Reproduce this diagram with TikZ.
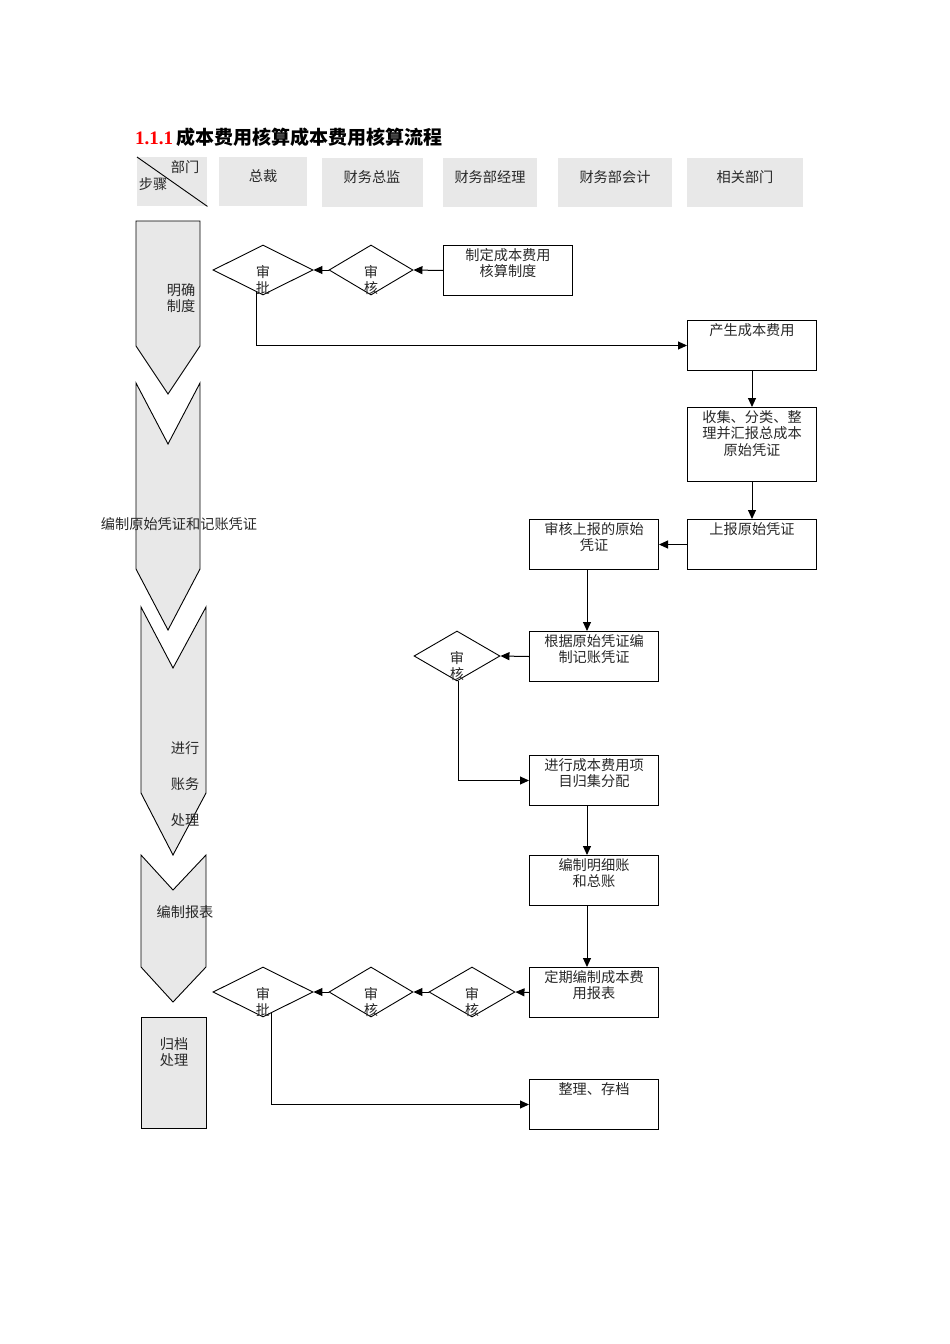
\documentclass[tikz,border=0pt]{standalone}
\usepackage{fontspec}
\setmainfont{Liberation Serif}
\newfontfamily\cjk{Noto Sans CJK SC}
\usetikzlibrary{shapes.geometric,arrows.meta}
\definecolor{hdr}{RGB}{232,232,232}
\definecolor{txtc}{RGB}{40,40,40}
\begin{document}
\begin{tikzpicture}[x=1pt,y=-1pt,
  every node/.style={font=\cjk\fontsize{14.2}{16.5}\selectfont, text=txtc},
  hdrbox/.style={fill=hdr, minimum height=49pt, inner sep=0pt, anchor=north west},
  procbox/.style={draw, line width=1pt, minimum width=129pt, minimum height=50pt, inner sep=0pt, anchor=north west},
  dec/.style={draw, diamond, line width=0.9pt, minimum width=#1, minimum height=50pt, inner sep=0pt},
  dec/.default=86pt,
  txt/.style={align=center, inner sep=0pt},
  boxtxt/.style={align=center, inner sep=0pt, anchor=north, yshift=-3pt},
  lane/.style={draw, fill=hdr, line width=0.9pt, line join=miter},
  arr/.style={line width=1pt, -{Triangle[length=9pt,width=8pt]}}
]
\useasboundingbox (0,0) rectangle (950,1344);

% title
\node[anchor=west, inner sep=0pt, font=\fontsize{19}{21}\selectfont] (title) at (135,137)
  {\bfseries\textcolor{red}{1.1.1}\,\textcolor{black}{\cjk\bfseries 成本费用核算成本费用核算流程}};

% header
\node[hdrbox, minimum width=70pt] (h0) at (137,157) {};
\draw[line width=0.9pt] (h0.north west) -- (h0.south east);
\node[txt] (h0a) at (185,167) {部门};
\node[txt] (h0b) at (153,184) {步骤};
\node[hdrbox, minimum width=88pt] (h1) at (219,157) {};
\node[txt] at (263,176) {总裁};
\node[hdrbox, minimum width=101pt] (h2) at (322,158) {};
\node[txt] at (372,177) {财务总监};
\node[hdrbox, minimum width=94pt] (h3) at (443,158) {};
\node[txt] at (490,177) {财务部经理};
\node[hdrbox, minimum width=114pt] (h4) at (558,158) {};
\node[txt] at (615,177) {财务部会计};
\node[hdrbox, minimum width=116pt] (h5) at (687,158) {};
\node[txt] at (745,177) {相关部门};

% lanes
\draw[lane] (136,221) -- (200,221) -- (200,346) -- (168,394) -- (136,346) -- cycle;
\draw[lane] (136,383) -- (168,444) -- (200,383) -- (200,569) -- (168,630) -- (136,569) -- cycle;
\draw[lane] (141,607) -- (173,668) -- (206,607) -- (206,793) -- (173,855) -- (141,793) -- cycle;
\draw[lane] (141,855) -- (173,890) -- (206,855) -- (206,967) -- (173,1002) -- (141,967) -- cycle;
\draw[lane] (141,1017) rectangle (206,1128);
\node[txt] (l1) at (181,298) {明确\\制度};
\node[txt] (l2) at (179,524) {编制原始凭证和记账凭证};
\node[txt] (l3a) at (185,748) {进行};
\node[txt] (l3b) at (185,784) {账务};
\node[txt] (l3c) at (185,820) {处理};
\node[txt] (l4) at (185,912) {编制报表};
\node[txt] (l5) at (174,1052) {归档\\处理};

% process boxes
\node[procbox] (zd) at (443,245) {};
\node[boxtxt] at (zd.north) {制定成本费用\\核算制度};
\node[procbox] (cs) at (687,320) {};
\node[boxtxt] at (cs.north) {产生成本费用};
\node[procbox, minimum height=74pt] (sj) at (687,407) {};
\node[boxtxt] at (sj.north) {收集、分类、整\\理并汇报总成本\\原始凭证};
\node[procbox] (sb) at (687,519) {};
\node[boxtxt] at (sb.north) {上报原始凭证};
\node[procbox] (shb) at (529,519) {};
\node[boxtxt] at (shb.north) {审核上报的原始\\凭证};
\node[procbox] (gj) at (529,631) {};
\node[boxtxt] at (gj.north) {根据原始凭证编\\制记账凭证};
\node[procbox] (gf) at (529,755) {};
\node[boxtxt] at (gf.north) {进行成本费用项\\目归集分配};
\node[procbox] (mx) at (529,855) {};
\node[boxtxt] at (mx.north) {编制明细账\\和总账};
\node[procbox] (bb) at (529,967) {};
\node[boxtxt] at (bb.north) {定期编制成本费\\用报表};
\node[procbox] (cd) at (529,1079) {};
\node[boxtxt] at (cd.north) {整理、存档};

% decisions
\node[dec=100pt] (d1) at (263,270) {};
\node[txt] at (263,280) {审\\批};
\node[dec=84pt] (d2) at (371,270) {};
\node[txt] at (371,280) {审\\核};
\node[dec=86pt] (d3) at (457,656) {};
\node[txt] at (457,666) {审\\核};
\node[dec=100pt] (d4) at (263,992) {};
\node[txt] at (263,1002) {审\\批};
\node[dec=84pt] (d5) at (371,992) {};
\node[txt] at (371,1002) {审\\核};
\node[dec=86pt] (d6) at (472,992) {};
\node[txt] at (472,1002) {审\\核};

% connectors
\coordinate (c1) at (256,292);
\coordinate (c3) at (458,681);
\coordinate (c4) at (271,1013);
\draw[arr] (zd.west) -- (d2.east);
\draw[arr] (d2.west) -- (d1.east);
\draw[arr] (c1) |- (cs.west);
\draw[arr] (cs.south) -- (sj.north);
\draw[arr] (sj.south) -- (sb.north);
\draw[arr] (sb.west) -- (shb.east);
\draw[arr] ([xshift=-7pt]shb.south) -- ([xshift=-7pt]gj.north);
\draw[arr] (gj.west) -- (d3.east);
\draw[arr] (c3) |- (gf.west);
\draw[arr] ([xshift=-7pt]gf.south) -- ([xshift=-7pt]mx.north);
\draw[arr] ([xshift=-7pt]mx.south) -- ([xshift=-7pt]bb.north);
\draw[arr] (bb.west) -- (d6.east);
\draw[arr] (d6.west) -- (d5.east);
\draw[arr] (d5.west) -- (d4.east);
\draw[arr] (c4) |- (cd.west);
\end{tikzpicture}
\end{document}
